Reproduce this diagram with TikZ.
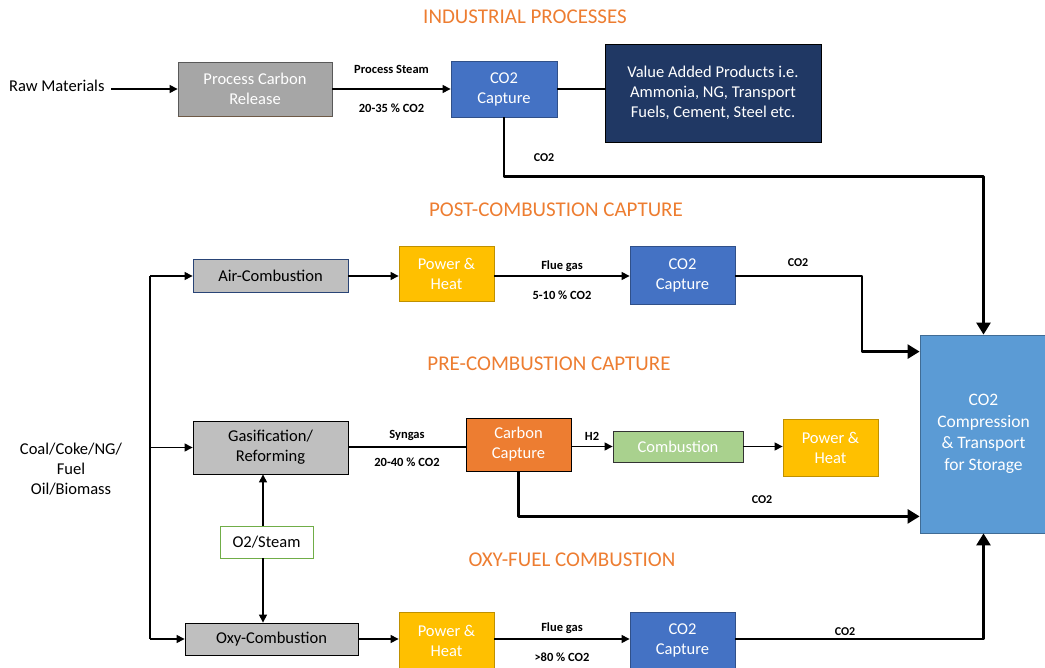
\documentclass[tikz,border=0pt]{standalone}
\usepackage{fontspec}
\setmainfont{Carlito}
\usetikzlibrary{arrows.meta,calc}
\definecolor{ttl}{RGB}{237,125,49}
\definecolor{gry}{RGB}{166,166,166}
\definecolor{lgry}{RGB}{191,191,191}
\definecolor{blu}{RGB}{68,114,196}
\definecolor{navy}{RGB}{32,56,100}
\definecolor{gold}{RGB}{255,192,0}
\definecolor{orng}{RGB}{237,125,49}
\definecolor{grn}{RGB}{169,209,142}
\definecolor{grnb}{RGB}{112,173,71}
\definecolor{sky}{RGB}{91,155,213}
\begin{document}
\begin{tikzpicture}[x=1pt,y=-1pt,
  box/.style={draw, line width=0.8pt, align=center, inner sep=2pt,
    font=\fontsize{16.5}{20}\selectfont},
  lbl/.style={font=\bfseries\fontsize{12.5}{14}\selectfont, inner sep=1pt},
  clbl/.style={font=\bfseries\fontsize{12}{14}\selectfont, inner sep=1pt},
  ttlstyle/.style={text=ttl, font=\fontsize{21}{24}\selectfont},
  plain/.style={font=\fontsize{16.5}{20}\selectfont, align=center},
  arr/.style={line width=1.1pt, -{Triangle[length=8pt,width=8pt]}},
  ln/.style={line width=1.1pt},
  thkarr/.style={line width=2.6pt, line join=round, -{Triangle[length=12pt,width=14pt]}}]
\useasboundingbox (0,0) rectangle (1045,668);

% titles
\node[ttlstyle] (t1) at (525,17) {INDUSTRIAL PROCESSES};
\node[ttlstyle] (t2) at (556,210) {POST-COMBUSTION CAPTURE};
\node[ttlstyle] (t3) at (549,364) {PRE-COMBUSTION CAPTURE};
\node[ttlstyle] (t4) at (572,560) {OXY-FUEL COMBUSTION};

% industrial row
\node[plain, anchor=east] (raw) at (108,86) {Raw Materials};
\node[box, draw=gray!70!black, fill=gry, text=white, minimum width=154, minimum height=54] (pcr) at (255,89) {Process Carbon\\Release};
\draw[line width=1.5pt, draw={rgb,255:red,110;green,90;blue,70}] (pcr.south west) -- (pcr.south east);
\node[box, draw=blu!70!black, fill=blu, text=white, minimum width=106, minimum height=56] (cap1) at (504,89) {CO2\\Capture};
\node[box, draw=black, fill=navy, text=white, minimum width=216, minimum height=98] (vap) at (713,93) {Value Added Products i.e.\\Ammonia, NG, Transport\\Fuels, Cement, Steel etc.};
\node[box, draw=sky!70!black, fill=sky, text=white, minimum width=127, minimum height=198, font=\fontsize{17.5}{21.5}\selectfont] (comp) at (983.5,434) {CO2\\Compression\\\& Transport\\for Storage};

\draw[arr] ([xshift=3pt]raw.east |- pcr.west) -- (pcr.west);
\draw[arr] (pcr.east) -- node[lbl, above=14pt] (ps) {Process Steam} node[lbl, below=13pt] (p35) {20-35 \% CO2} (cap1.west);
\draw[ln] (cap1.east) -- (vap.west |- cap1.east);
\draw[thkarr] (cap1.south) -- ++(0,59) coordinate (c1) -| (comp.north);
\node[clbl] (l1) at (544,158) {CO2};

% post-combustion row
\coordinate (lt) at (150,276);
\coordinate (lb) at (150,639);
\node[box, draw=blu!60!black, fill=lgry, minimum width=155, minimum height=33] (air) at (270.5,276) {Air-Combustion};
\node[box, draw=gold!75!black, fill=gold, text=white, minimum width=95, minimum height=55] (ph1) at (446.5,274) {Power \&\\Heat};
\node[box, draw=blu!70!black, fill=blu, text=white, minimum width=105, minimum height=58] (cap2) at (682.5,275) {CO2\\Capture};
\draw[ln] (lt) -- (lb);
\draw[arr] (lt) -- (air.west);
\draw[arr] (air.east) -- (ph1.west |- air.east);
\draw[arr] (ph1.east |- air.east) -- node[lbl, above=3pt] (fg1) {Flue gas} node[lbl, below=13pt] (p510) {5-10 \% CO2} (cap2.west |- air.east);
\draw[thkarr] (cap2.east |- air.east) -- (862,276) |- ($(comp.north west)+(0,17)$);
\node[clbl] (l2) at (798,263) {CO2};

% pre-combustion row
\node[box, draw=black, fill=lgry, minimum width=155, minimum height=53] (gas) at (270.5,447.5) {Gasification/\\Reforming};
\node[box, draw=black, fill=orng, text=white, minimum width=105, minimum height=53] (cc) at (518.5,444.5) {Carbon\\Capture};
\node[box, draw=black!80, fill=grn, text=white, minimum width=130, minimum height=31] (comb) at (678,446.5) {Combustion};
\node[box, draw=gold!75!black, fill=gold, text=white, minimum width=95, minimum height=57] (ph2) at (830.5,447.5) {Power \&\\Heat};
\draw[arr] (lt |- gas.west) -- (gas.west);
\draw[ln] (gas.east |- 0,447) -- node[lbl, above=5pt] (sg) {Syngas} node[lbl, below=9pt] (p2040) {20-40 \% CO2} (cc.west |- 0,447);
\draw[arr] (cc.east |- comb.west) -- node[lbl, above=4pt] (h2) {H2} (comb.west);
\draw[arr] (comb.east) -- (ph2.west |- comb.east);
\draw[thkarr] (cc.south) |- ($(comp.south west)+(0,-17)$);
\node[clbl] (l3) at (762,500) {CO2};

% oxy-fuel row
\node[plain] (coal) at (71,469) {Coal/Coke/NG/\\Fuel\\Oil/Biomass};
\node[box, draw=grnb, fill=white, minimum width=93, minimum height=32] (o2) at (266.5,542) {O2/Steam};
\node[box, draw=black, fill=lgry, minimum width=173, minimum height=32] (oxy) at (271.5,639) {Oxy-Combustion};
\node[box, draw=gold!75!black, fill=gold, text=white, minimum width=95, minimum height=57] (ph3) at (446.5,640.5) {Power \&\\Heat};
\node[box, draw=blu!70!black, fill=blu, text=white, minimum width=105, minimum height=57] (cap3) at (682.5,640.5) {CO2\\Capture};
\draw[arr] (o2.north -| 263,0) -- (gas.south -| 263,0);
\draw[arr] (o2.south -| 263,0) -- (oxy.north -| 263,0);
\draw[arr] (lb) -- (oxy.west);
\draw[arr] (oxy.east) -- (ph3.west |- oxy.east);
\draw[arr] (ph3.east |- oxy.east) -- node[lbl, above=4pt] (fg3) {Flue gas} node[lbl, below=12pt] (p80) {>80 \% CO2} (cap3.west |- oxy.east);
\draw[thkarr] (cap3.east |- oxy.east) -| (comp.south);
\node[clbl] (l4) at (845,632) {CO2};
\end{tikzpicture}
\end{document}
